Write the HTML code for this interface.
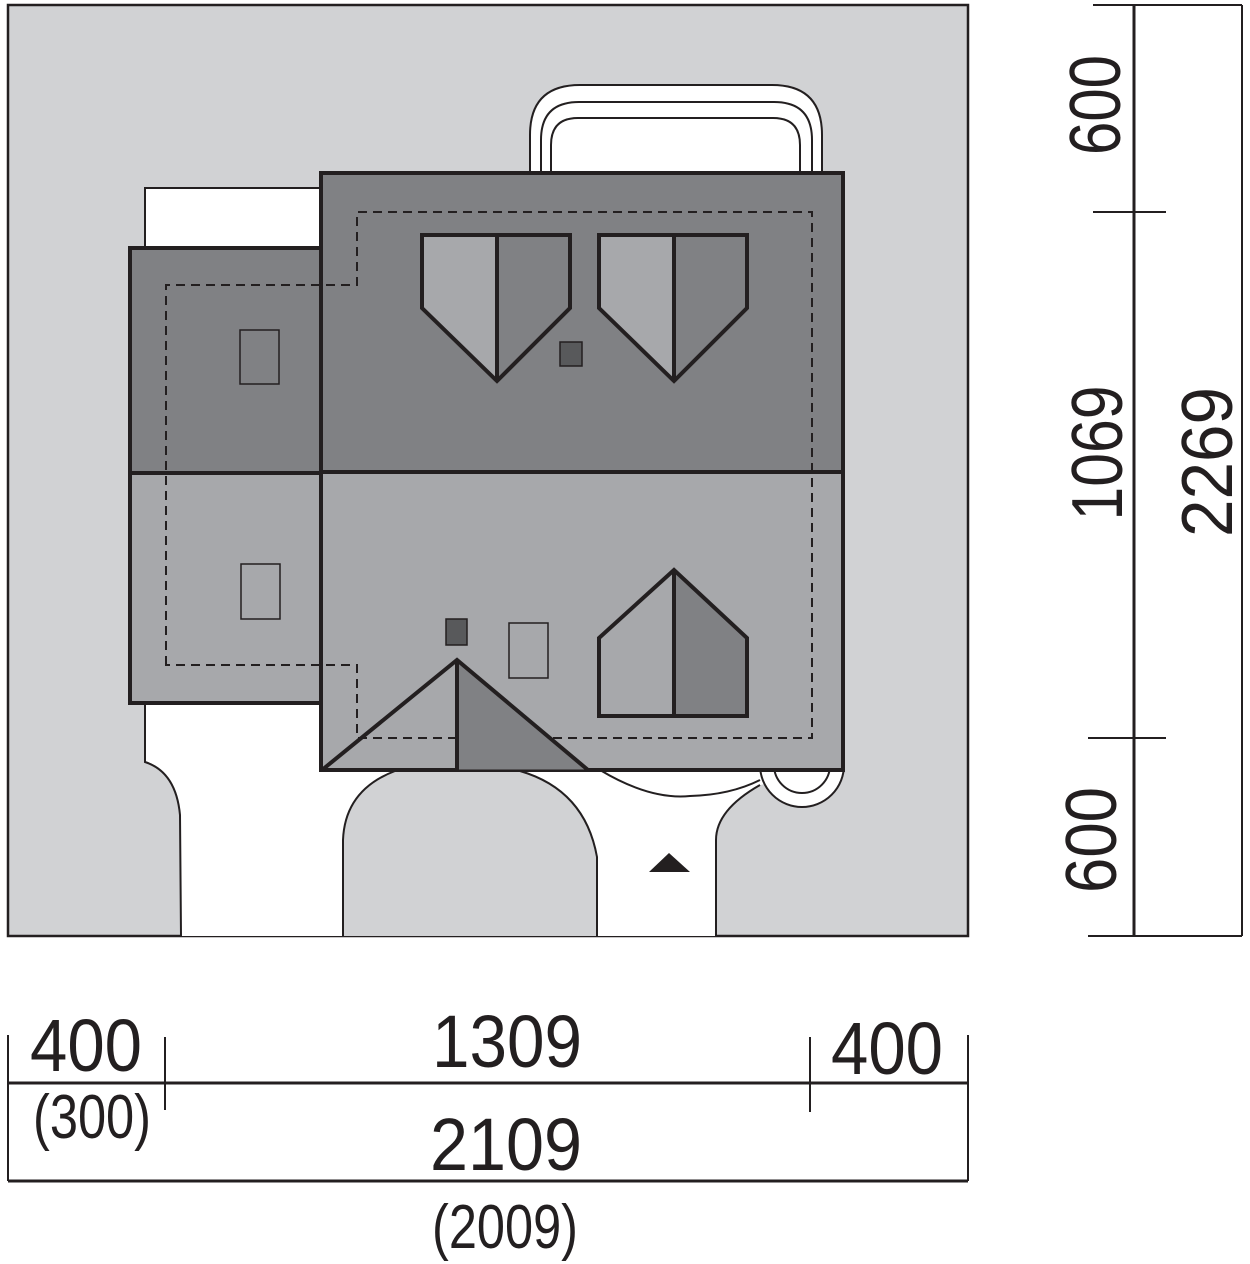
<!DOCTYPE html>
<html><head><meta charset="utf-8"><style>html,body{margin:0;padding:0;background:#fff}svg{display:block}</style></head>
<body>
<svg width="1250" height="1264" viewBox="0 0 1250 1264" xmlns="http://www.w3.org/2000/svg" font-family="Liberation Sans, sans-serif" fill="none" stroke="#231f20">
<rect x="8" y="5" width="960" height="931" fill="#d1d2d4" stroke-width="2.5"/>
<path d="M145,700 L145,762 Q176,772 180,815 L181,936 L716,936 L716,840 Q716,810 760,785 L845,770 L845,690 L320,690 L320,700 Z" fill="#fff" stroke="none"/>
<path d="M145,700 L145,762 Q176,772 180,815 L181,936" stroke-width="2"/>
<path d="M716,936 L716,840 Q716,810 760,785" stroke-width="2"/>
<path d="M343,936 L343,840 Q345,790 395,771 L520,771 Q585,790 597,857 L597,936" fill="#d1d2d4" stroke-width="2"/>
<path d="M600,770 Q650,800 690,796 Q730,795 760,780" stroke-width="2"/>
<circle cx="802" cy="765" r="42" fill="#fff" stroke-width="2"/>
<circle cx="802" cy="765" r="28" fill="#fff" stroke-width="2"/>
<path d="M530,175 L530,135 Q530,85 580,85 L772,85 Q822,85 822,135 L822,175" fill="#fff" stroke-width="2"/>
<path d="M541,175 L541,140 Q541,102 579,102 L774,102 Q812,102 812,140 L812,175" stroke-width="2"/>
<path d="M551,175 L551,145 Q551,118 578,118 L773,118 Q800,118 800,145 L800,175" stroke-width="2"/>
<rect x="145" y="188" width="178" height="62" fill="#fff" stroke-width="2"/>
<rect x="130" y="248" width="192" height="225" fill="#808184" stroke-width="4"/>
<rect x="130" y="473" width="192" height="230" fill="#a7a8ab" stroke-width="4"/>
<rect x="321" y="173" width="522" height="299" fill="#808184" stroke-width="4"/>
<rect x="321" y="472" width="522" height="298" fill="#a7a8ab" stroke-width="4"/>
<path d="M166,665 L166,285 L357,285 L357,212 L812,212 L812,738 L357,738 L357,665 Z" stroke-width="2" stroke-dasharray="9,6"/>
<path d="M422,235 L497,235 L497,381 L422,308 Z" fill="#a7a8ab"/>
<path d="M422,235 L570,235 L570,308 L497,381 L422,308 Z M497,235 L497,381" stroke-width="4"/>
<path d="M599,235 L674,235 L674,381 L599,308 Z" fill="#a7a8ab"/>
<path d="M599,235 L747,235 L747,308 L674,381 L599,308 Z M674,235 L674,381" stroke-width="4"/>
<path d="M674,570 L747,638 L747,716 L674,716 Z" fill="#808184"/>
<path d="M599,716 L747,716 L747,638 L674,570 L599,638 Z M674,570 L674,716" stroke-width="4"/>
<path d="M457,660 L588,770 L457,770 Z" fill="#808184"/>
<path d="M322,770 L457,660 L588,770 M457,660 L457,770" stroke-width="4"/>
<rect x="560" y="342" width="22" height="24" fill="#58595b" stroke-width="1.5"/>
<rect x="446" y="619" width="21" height="26" fill="#58595b" stroke-width="1.5"/>
<rect x="240" y="330" width="39" height="54" stroke-width="1.5"/>
<rect x="241" y="564" width="39" height="55" stroke-width="1.5"/>
<rect x="509" y="623" width="39" height="55" stroke-width="1.5"/>
<path d="M649,872 L669,853 L690,872 Z" fill="#231f20" stroke="none"/>
<path d="M1093,5 L1242,5 M1242,5 L1242,936 M1088,936 L1242,936 M1093,212 L1166,212 M1088,738 L1166,738" stroke-width="2"/>
<path d="M1134,5 L1134,936" stroke-width="3"/>
<g fill="#231f20" stroke="none" font-size="72">
<text transform="translate(1120,105) rotate(-90)" text-anchor="middle" textLength="100" lengthAdjust="spacingAndGlyphs">600</text>
<text transform="translate(1122,453) rotate(-90)" text-anchor="middle" textLength="135" lengthAdjust="spacingAndGlyphs">1069</text>
<text transform="translate(1116,840) rotate(-90)" text-anchor="middle" textLength="106" lengthAdjust="spacingAndGlyphs">600</text>
<text transform="translate(1232,462) rotate(-90)" text-anchor="middle" textLength="150" lengthAdjust="spacingAndGlyphs">2269</text>
</g>
<path d="M8,1083 L968,1083" stroke-width="3"/>
<path d="M8,1181 L968,1181" stroke-width="3"/>
<path d="M8,1035 L8,1181 M968,1035 L968,1181 M165,1037 L165,1110 M810,1037 L810,1112" stroke-width="2"/>
<g fill="#231f20" stroke="none">
<text x="86" y="1071" font-size="74" text-anchor="middle" textLength="112" lengthAdjust="spacingAndGlyphs">400</text>
<text x="507" y="1067" font-size="74" text-anchor="middle" textLength="150" lengthAdjust="spacingAndGlyphs">1309</text>
<text x="887" y="1074" font-size="74" text-anchor="middle" textLength="112" lengthAdjust="spacingAndGlyphs">400</text>
<text x="92" y="1138" font-size="62" text-anchor="middle" textLength="118" lengthAdjust="spacingAndGlyphs">(300)</text>
<text x="506" y="1170" font-size="74" text-anchor="middle" textLength="152" lengthAdjust="spacingAndGlyphs">2109</text>
<text x="505" y="1248" font-size="62" text-anchor="middle" textLength="146" lengthAdjust="spacingAndGlyphs">(2009)</text>
</g>
</svg>
</body></html>
